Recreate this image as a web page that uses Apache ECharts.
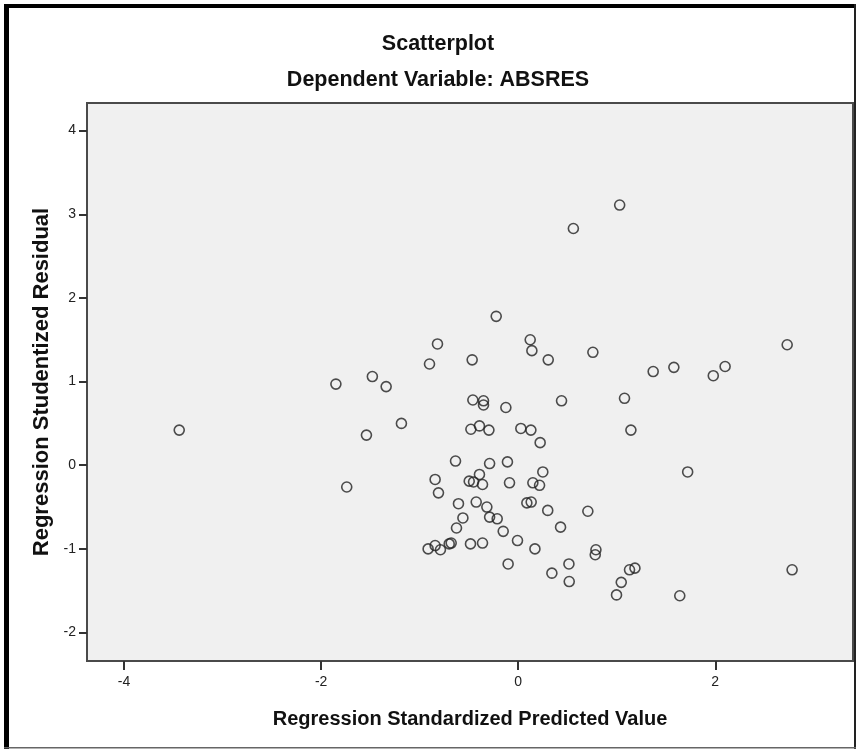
<!DOCTYPE html>
<html>
<head>
<meta charset="utf-8">
<script src="https://cdn.jsdelivr.net/npm/echarts@6/dist/echarts.min.js"></script>
<style>
html,body{margin:0;padding:0;background:#fff;}
#chart{width:856px;height:749px;}
</style>
</head>
<body>
<div id="chart"></div>
<script>
const titleText = 'Scatterplot';
const subtitleText = 'Dependent Variable: ABSRES';
const xAxisTitle = 'Regression Standardized Predicted Value';
const yAxisTitle = 'Regression Studentized Residual';
const xTicks = [-4, -2, 0, 2];
const yTicks = [-2, -1, 0, 1, 2, 3, 4];

const xValues = [
  -0.223, -0.819, 0.122, 0.139, 0.305, 0.758, 1.37, -0.90, -0.467, -0.46,
  -0.352, -0.352, -0.125, 0.44, 1.079, 1.144, -1.185, -0.48, -0.393, -0.297,
  0.027, 0.129, 0.223, -0.636, -0.29, -0.109, 0.25,
  -0.843, -0.809, -0.497, -0.453, -0.393, -0.362, -0.088, 0.149, 0.217, -0.606,
  -0.426, -0.318, -0.29, -0.213, -0.561, -0.626, 0.088, 0.132, 0.30, 0.707,
  0.43, -0.152, -0.007, 0.17, -0.484, -0.362, -0.70, -0.68, -0.843, -0.914,
  -0.789, -0.102, 0.789, 0.782, 0.515, 0.342, 0.518, 1.13, 1.185, 1.046, 0.998,
  0.56, 1.03, -3.44, -1.85, -1.48, -1.34, -1.54, -1.74, 1.58, 1.98, 2.10, 2.73,
  1.72, 2.78, 1.64
];
const yValues = [
  1.78, 1.45, 1.50, 1.37, 1.26, 1.35, 1.12, 1.21, 1.26, 0.78,
  0.77, 0.72, 0.69, 0.77, 0.80, 0.42, 0.50, 0.43, 0.47, 0.42,
  0.44, 0.42, 0.27, 0.05, 0.02, 0.04, -0.08,
  -0.17, -0.33, -0.19, -0.20, -0.11, -0.23, -0.21, -0.21, -0.24, -0.46,
  -0.44, -0.50, -0.62, -0.64, -0.63, -0.75, -0.45, -0.44, -0.54, -0.55,
  -0.74, -0.79, -0.90, -1.00, -0.94, -0.93, -0.94, -0.93, -0.96, -1.00,
  -1.01, -1.18, -1.01, -1.07, -1.18, -1.29, -1.39, -1.25, -1.23, -1.40, -1.55,
  2.83, 3.11, 0.42, 0.97, 1.06, 0.94, 0.36, -0.26, 1.17, 1.07, 1.18, 1.44,
  -0.08, -1.25, -1.56
];

const points = xValues.map((x, i) => [x, yValues[i]]);
const FONT = '"Liberation Sans", Arial, sans-serif';

const chart = echarts.init(document.getElementById('chart'), null, {renderer: 'canvas'});
chart.setOption({
  backgroundColor: '#ffffff',
  animation: false,
  title: [
    {text: titleText, left: 433, top: 28, textAlign: 'center',
     textStyle: {fontFamily: FONT, fontSize: 21.5, fontWeight: 'bold', color: '#111'}},
    {text: subtitleText, left: 433, top: 64, textAlign: 'center',
     textStyle: {fontFamily: FONT, fontSize: 21.5, fontWeight: 'bold', color: '#111'}}
  ],
  grid: {
    left: 87, top: 103, right: 3, bottom: 88,
    show: true, backgroundColor: '#f0f0f0', borderColor: '#4a4a4a', borderWidth: 2
  },
  xAxis: {
    type: 'value', min: -4.376, max: 3.398,
    name: xAxisTitle, nameLocation: 'middle', nameGap: 48,
    nameTextStyle: {fontFamily: FONT, fontSize: 20, fontWeight: 'bold', color: '#111'},
    splitLine: {show: false},
    axisLine: {show: true, onZero: false, lineStyle: {color: '#4a4a4a', width: 2}},
    axisTick: {show: true, customValues: xTicks, length: 9, lineStyle: {color: '#333', width: 2}},
    axisLabel: {customValues: xTicks, margin: 14, fontFamily: FONT, fontSize: 14, color: '#222'}
  },
  yAxis: {
    type: 'value', min: -2.34, max: 4.33,
    name: yAxisTitle, nameLocation: 'middle', nameGap: 34,
    nameTextStyle: {fontFamily: FONT, fontSize: 22, fontWeight: 'bold', color: '#111'},
    splitLine: {show: false},
    axisLine: {show: true, onZero: false, lineStyle: {color: '#4a4a4a', width: 2}},
    axisTick: {show: true, customValues: yTicks, length: 8, lineStyle: {color: '#333', width: 2}},
    axisLabel: {customValues: yTicks, margin: 11, fontFamily: FONT, fontSize: 14, color: '#222'}
  },
  series: [{
    type: 'scatter',
    data: points,
    symbol: 'circle',
    symbolSize: 10,
    itemStyle: {color: 'rgba(0,0,0,0)', borderColor: '#222', borderWidth: 1.6}
  }],
  graphic: [
    {type: 'rect', shape: {x: 4, y: 4, width: 5, height: 745}, style: {fill: '#000'}, silent: true},
    {type: 'rect', shape: {x: 4, y: 4, width: 852, height: 4}, style: {fill: '#000'}, silent: true},
    {type: 'rect', shape: {x: 854, y: 4, width: 2, height: 745}, style: {fill: '#222'}, silent: true},
    {type: 'rect', shape: {x: 4, y: 747, width: 852, height: 1.5}, style: {fill: '#666'}, silent: true}
  ]
});
</script>
</body>
</html>
